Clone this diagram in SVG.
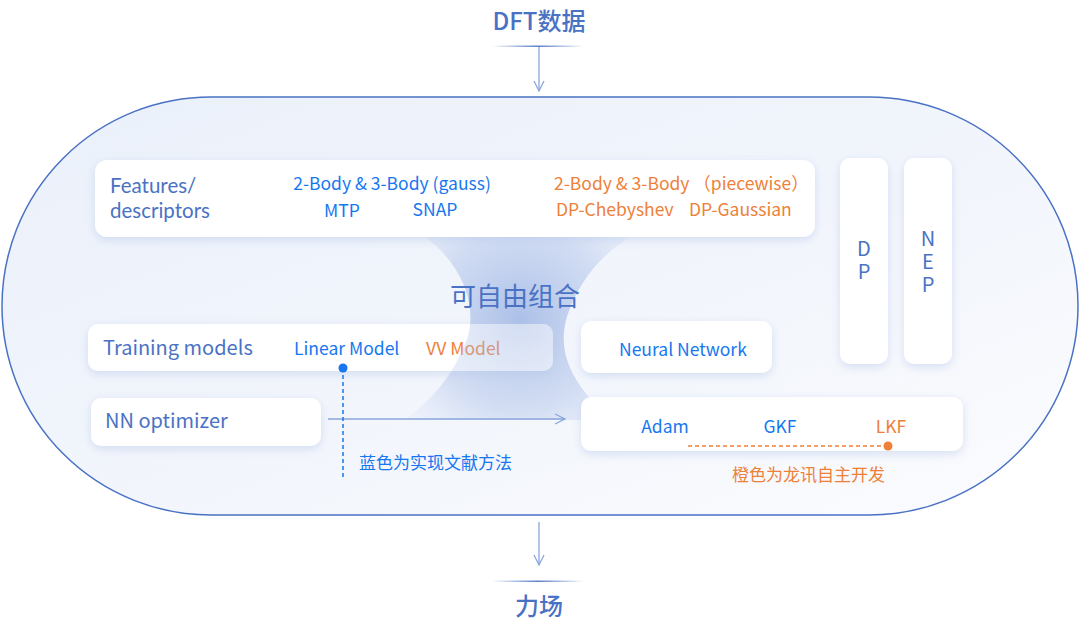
<svg xmlns="http://www.w3.org/2000/svg" width="1080" height="637" viewBox="0 0 1080 637">
<defs>
<linearGradient id="pillFill" x1="0" y1="0" x2="1" y2="1">
<stop offset="0" stop-color="#eaf0fa"/>
<stop offset="0.6" stop-color="#f3f6fc"/>
<stop offset="1" stop-color="#fbfcfe"/>
</linearGradient>
<linearGradient id="hline" x1="0" y1="0" x2="1" y2="0">
<stop offset="0" stop-color="#4a72c4" stop-opacity="0"/>
<stop offset="0.5" stop-color="#4a72c4" stop-opacity="0.9"/>
<stop offset="1" stop-color="#4a72c4" stop-opacity="0"/>
</linearGradient>
<radialGradient id="glow" cx="520" cy="320" r="150" gradientUnits="userSpaceOnUse">
<stop offset="0" stop-color="#9fb6e4" stop-opacity="0.85"/>
<stop offset="0.6" stop-color="#b8c9ec" stop-opacity="0.55"/>
<stop offset="1" stop-color="#dbe4f6" stop-opacity="0.2"/>
</radialGradient>
<clipPath id="trClip"><rect x="88" y="324" width="465" height="47" rx="10"/></clipPath>
<filter id="sh" x="-20%" y="-40%" width="140%" height="180%">
<feDropShadow dx="0" dy="3" stdDeviation="5" flood-color="#b9c8ea" flood-opacity="0.55"/>
</filter>
<marker id="arr" viewBox="0 0 12 12" refX="11" refY="6" markerWidth="12" markerHeight="12" markerUnits="userSpaceOnUse" orient="auto">
<path d="M1 1 L11 6 L1 11" fill="none" stroke="#8aa6dc" stroke-width="1.3"/>
</marker>
</defs>
<style>
.box{fill:#ffffff;filter:url(#sh)}
.ttl{font-family:"Noto Sans CJK SC","Noto Sans",sans-serif;font-size:20px;fill:#4a72c4}
.ttl2{font-family:Lato,"Noto Sans",sans-serif;font-size:20.5px;fill:#4a72c4}
.vert{font-family:"Noto Sans CJK SC","Noto Sans",sans-serif;font-size:20px;fill:#4a72c4;writing-mode:vertical-rl;text-orientation:upright;letter-spacing:3px}
.b{font-family:"Noto Sans CJK SC","Noto Sans",sans-serif;font-size:17.5px;fill:#1677f0}
.o{font-family:"Noto Sans CJK SC","Noto Sans",sans-serif;font-size:17.5px;fill:#ee8038}
.big{font-family:"Noto Sans CJK SC","Noto Sans",sans-serif;font-size:24px;fill:#4a72c4;font-weight:500}
.cn{font-family:"Noto Sans CJK SC",sans-serif;font-size:17px}
</style>
<rect width="1080" height="637" fill="#ffffff"/>

<g id="container">
<rect x="2" y="97" width="1076" height="418" rx="209" fill="url(#pillFill)" stroke="#4a72c4" stroke-width="1.5"/>
<path id="glowShape" d="M425 237 C470 270 480 320 462 350 C450 380 430 400 405 420 L610 420 C580 390 556 360 566 320 C576 285 600 255 630 237 Z" fill="url(#glow)"/>
</g>

<g id="dft">
<text x="539" y="30" text-anchor="middle" class="big">DFT数据</text>
<rect x="492" y="45.5" width="92" height="1.5" fill="url(#hline)"/>
</g>

<g id="forcefield">
<rect x="492" y="580.5" width="92" height="1.5" fill="url(#hline)"/>
<text x="539" y="615" text-anchor="middle" class="big">力场</text>
</g>

<g id="features">
<rect class="box" x="95" y="160" width="720" height="77" rx="12"/>
<text class="ttl2" x="110" y="193">Features/</text>
<text class="ttl2" x="110" y="218">descriptors</text>
<text class="b" x="392" y="190" text-anchor="middle">2-Body &amp; 3-Body (gauss)</text>
<text class="b" x="342" y="217" text-anchor="middle">MTP</text>
<text class="b" x="435" y="216" text-anchor="middle">SNAP</text>
<text class="o" x="554" y="190">2-Body &amp; 3-Body （piecewise）</text>
<text class="o" x="556" y="216">DP-Chebyshev</text>
<text class="o" x="689" y="216">DP-Gaussian</text>
</g>

<g id="dp">
<rect class="box" x="840" y="158" width="48" height="206" rx="10"/>
<text class="vert" x="864" y="238">DP</text>
</g>

<g id="nep">
<rect class="box" x="904" y="158" width="48" height="206" rx="10"/>
<text class="vert" x="928" y="228">NEP</text>
</g>

<g id="combine">
<text x="515" y="306" text-anchor="middle" class="big" style="font-size:26px;font-weight:400">可自由组合</text>
</g>

<g id="training">
<rect class="box" x="88" y="324" width="465" height="47" rx="10"/>
<text class="ttl" x="103" y="355">Training models</text>
<text class="b" x="294" y="355">Linear Model</text>
<text class="o" x="426" y="355">VV Model</text>
<use href="#glowShape" clip-path="url(#trClip)" opacity="0.55"/>
</g>

<g id="neural">
<rect class="box" x="581" y="321" width="191" height="52" rx="10"/>
<text class="b" x="619" y="356">Neural Network</text>
</g>

<g id="nnopt">
<rect class="box" x="91" y="398" width="230" height="48" rx="10"/>
<text class="ttl" x="105" y="428">NN optimizer</text>
</g>

<g id="optimizers">
<rect class="box" x="581" y="397" width="382" height="54" rx="10"/>
<text class="b" x="665" y="433" text-anchor="middle">Adam</text>
<text class="b" x="780" y="433" text-anchor="middle">GKF</text>
<text class="o" x="891" y="433" text-anchor="middle">LKF</text>
</g>

<g id="connectors">
<line x1="539" y1="47" x2="539" y2="91" stroke="#8aa6dc" stroke-width="1.3" marker-end="url(#arr)"/>
<line x1="539" y1="522" x2="539" y2="565" stroke="#8aa6dc" stroke-width="1.3" marker-end="url(#arr)"/>
<line x1="328" y1="419" x2="565" y2="419" stroke="#8aa6dc" stroke-width="1.3" marker-end="url(#arr)"/>
<circle cx="343" cy="368" r="4.5" fill="#1677f0"/>
<line x1="343" y1="368" x2="343" y2="477" stroke="#1677f0" stroke-width="1.5" stroke-dasharray="4 3"/>
<circle cx="888" cy="446" r="4.5" fill="#ee8038"/>
<line x1="688" y1="446" x2="888" y2="446" stroke="#ee8038" stroke-width="1.5" stroke-dasharray="4 3"/>
</g>

<g id="notes">
<text class="cn" x="359" y="469" fill="#1677f0">蓝色为实现文献方法</text>
<text class="cn" x="732" y="481" fill="#ee8038">橙色为龙讯自主开发</text>
</g>
</svg>
